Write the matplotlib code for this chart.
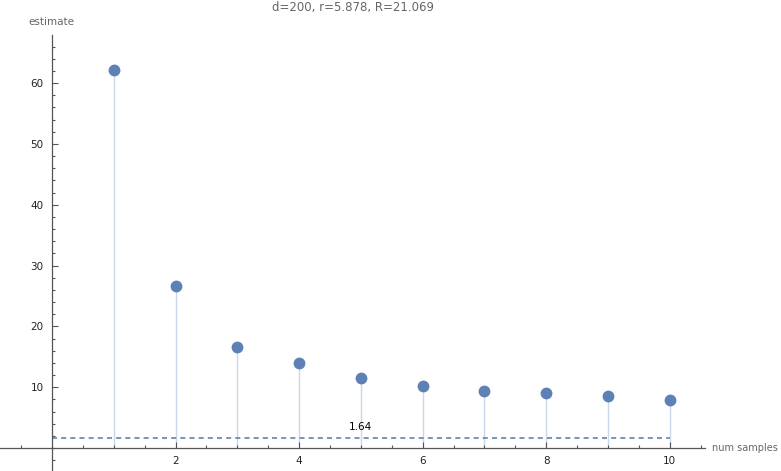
import numpy as np
import matplotlib.pyplot as plt
from matplotlib.ticker import MultipleLocator

# values
num_samples = [1, 2, 3, 4, 5, 6, 7, 8, 9, 10]
estimate = [62.2, 26.6, 16.6, 14.0, 11.5, 10.2, 9.4, 9.05, 8.55, 7.9]
ref_level = 1.64
title = "d=200, r=5.878, R=21.069"

dot_col = "#5e81b5"
stem_col = "#c9d8ea"
axis_col = "#555555"

fig = plt.figure(figsize=(7.81, 4.71), dpi=100)
ax = fig.add_axes([0, 0, 705 / 781, 1 - 35 / 471])
ax.set_xlim(-0.841, 10.57)
ax.set_ylim(-3.78, 67.9)

# stems + dots
ax.vlines(num_samples, 0, estimate, color=stem_col, lw=1.0, zorder=1)
ax.plot(num_samples, estimate, "o", color=dot_col, ms=7.5, zorder=3)

# reference line
ax.plot([0, num_samples[-1]], [ref_level, ref_level], ls=(0, (3, 2.5)),
        color=dot_col, lw=1.2, zorder=2)
ax.text(5, ref_level + 1.0, f"{ref_level}", ha="center", va="bottom", fontsize=7.5)

# axes through the origin, mathematica style
for s in ["top", "right"]:
    ax.spines[s].set_visible(False)
ax.spines["left"].set_position(("data", 0))
ax.spines["bottom"].set_position(("data", 0))
for s in ["left", "bottom"]:
    ax.spines[s].set_color(axis_col)
    ax.spines[s].set_linewidth(0.9)

ax.xaxis.set_major_locator(MultipleLocator(2))
ax.xaxis.set_minor_locator(MultipleLocator(0.5))
ax.yaxis.set_major_locator(MultipleLocator(10))
ax.yaxis.set_minor_locator(MultipleLocator(2))
ax.set_xticks([2, 4, 6, 8, 10])
ax.set_yticks([10, 20, 30, 40, 50, 60])
ax.tick_params(which="both", direction="in", color=axis_col, width=0.8,
               labelsize=7.5, labelcolor="#222222")
ax.tick_params(which="major", length=4.5)
ax.tick_params(which="minor", length=2.5)
ax.tick_params(axis="x", pad=6)
ax.tick_params(axis="y", pad=6)

fig.text(74 / 781, 1 - 22 / 471, "estimate", ha="right", va="center",
         fontsize=7.5, color="#666666")
fig.text(712 / 781, 1 - 448 / 471, "num samples", ha="left", va="center",
         fontsize=7, color="#666666")
fig.text(353 / 781, 1 - 8 / 471, title, ha="center", va="center",
         fontsize=8.5, color="#666666")

fig.savefig("out.png", dpi=100)
